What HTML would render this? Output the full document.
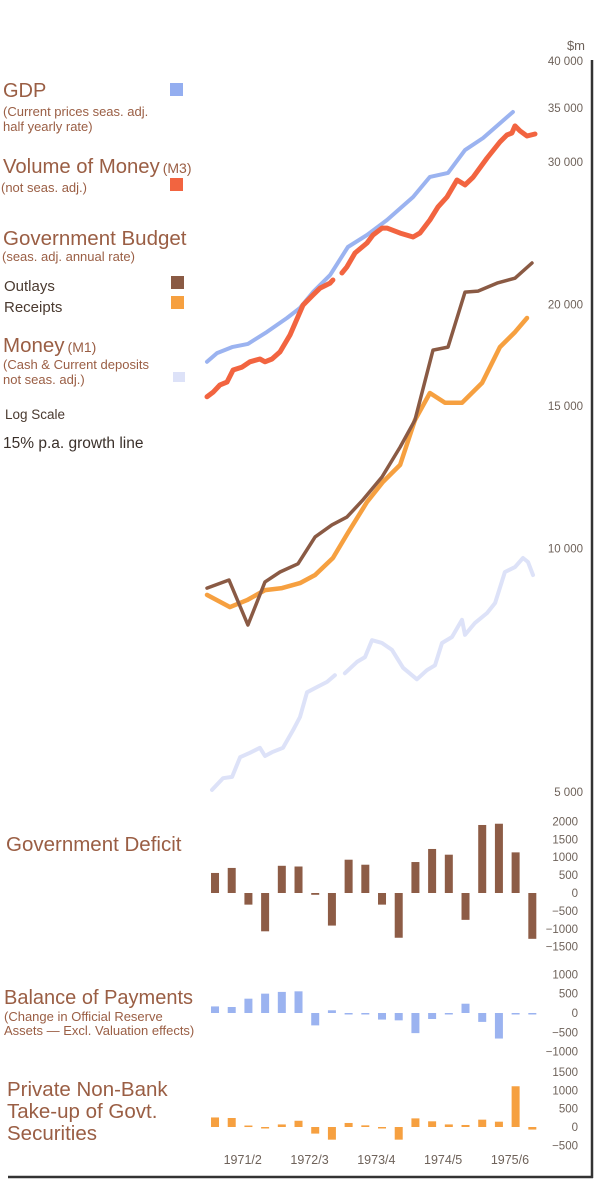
<!DOCTYPE html>
<html><head><meta charset="utf-8">
<style>
html,body{margin:0;padding:0;background:#fff;}
svg{display:block;font-family:"Liberation Sans",sans-serif;}
.lab{fill:#9a5e44;}
.ax{fill:#6e625a;font-size:11.5px;}
</style></head>
<body>
<svg id="chart" width="600" height="1191" viewBox="0 0 600 1191">
  <g>
    <text class="lab" x="3" y="97" font-size="20">GDP</text>
    <text class="lab" x="3" y="116" font-size="13">(Current prices seas. adj.</text>
    <text class="lab" x="3" y="131" font-size="13">half yearly rate)</text>
    <rect x="170" y="83" width="13" height="13" fill="#94aef0"/>
    <text class="lab" x="3" y="173" font-size="20.3">Volume of Money<tspan font-size="14" dx="3">(M3)</tspan></text>
    <text class="lab" x="1" y="192" font-size="13">(not seas. adj.)</text>
    <rect x="170" y="178" width="13" height="13" fill="#f26440"/>
    <text class="lab" x="3" y="245" font-size="20.5">Government Budget</text>
    <text class="lab" x="2" y="261" font-size="13">(seas. adj. annual rate)</text>
    <text x="4" y="291" font-size="15" fill="#4a3a30">Outlays</text>
    <rect x="171" y="276" width="13" height="13" fill="#8a5a44"/>
    <text x="4" y="312" font-size="15" fill="#4a3a30">Receipts</text>
    <rect x="171" y="296" width="13" height="13" fill="#f6a040"/>
    <text class="lab" x="3" y="352" font-size="20.5">Money<tspan font-size="14" dx="3">(M1)</tspan></text>
    <text class="lab" x="3" y="369" font-size="13">(Cash &amp; Current deposits</text>
    <text class="lab" x="3" y="384" font-size="13">not seas. adj.)</text>
    <rect x="173" y="372" width="12" height="10" fill="#dde2f8"/>
    <text x="5" y="419" font-size="13.5" fill="#4a3a30">Log Scale</text>
    <text x="3" y="448" font-size="15.5" fill="#3a302a">15% p.a. growth line</text>
    <text class="lab" x="6" y="851" font-size="20.5">Government Deficit</text>
    <text class="lab" x="4" y="1004" font-size="20">Balance of Payments</text>
    <text class="lab" x="4" y="1021" font-size="13">(Change in Official Reserve</text>
    <text class="lab" x="4" y="1035" font-size="13">Assets — Excl. Valuation effects)</text>
    <text class="lab" x="7" y="1096" font-size="20.5">Private Non-Bank</text>
    <text class="lab" x="7" y="1118" font-size="20.5">Take-up of Govt.</text>
    <text class="lab" x="7" y="1140" font-size="20.5">Securities</text>
  </g>
  <line x1="592" y1="60" x2="592" y2="1178" stroke="#333" stroke-width="2.5"/>
  <line x1="8" y1="1177" x2="593" y2="1177" stroke="#333" stroke-width="2.5"/>
  <text x="585" y="50" class="ax" font-size="13" text-anchor="end" style="font-size:13px">$m</text>
  <g id="main"></g>
  <g id="bars"></g>
</svg>
<script>
const NS="http://www.w3.org/2000/svg";
// ---- data ----
const logTicks=[40000,35000,30000,20000,15000,10000,5000];
const gdpT=[0.06,0.66,1.56,2.51,3.65,4.85,5.63,6.41,7.43,8.50,9.64,10.84,12.40,13.41,14.49,15.51,16.59,18.38];
const gdpV=[17000,17430,17730,17890,18510,19260,19820,20730,21760,23570,24390,25450,27170,28770,29100,31050,32140,34610];
const m3T=[0.06,0.42,0.84,1.26,1.62,2.16,2.63,3.23,3.53,3.95,4.43,5.03,5.81,6.41,6.83,7.43,7.60,8.14,8.44,8.92,9.64,10.00,10.54,10.84,11.62,12.40,12.81,13.41,13.89,14.43,15.03,15.51,15.99,16.83,17.60,18.02,18.32,18.50,18.80,19.22,19.70];
const m3V=[15390,15590,15920,16050,16610,16750,17000,17140,17000,17140,17490,18350,19980,20560,20970,21270,21460,21890,22270,23170,23840,24390,24870,24870,24520,24250,24520,25450,26420,27170,28520,28120,28740,30360,31770,32410,32600,33260,32790,32320,32510];
const m3Break=17;
const outT=[0.06,1.38,2.51,3.53,4.43,5.51,6.53,7.54,8.44,9.40,10.54,11.62,12.51,13.59,14.49,15.51,16.29,17.43,18.50,19.52];
const outV=[8930,9140,8040,9090,9350,9570,10330,10690,10930,11480,12250,13340,14400,17580,17730,20730,20790,21270,21570,22520];
const recT=[0.06,1.44,2.46,3.53,4.55,5.63,6.53,7.60,8.50,9.64,10.60,11.62,12.51,13.41,14.31,15.33,16.53,17.60,18.50,19.22];
const recV=[8760,8460,8630,8880,8930,9060,9270,9730,10450,11410,12080,12680,14400,15560,15130,15130,16010,17730,18500,19260];
const m1T=[0.36,1.02,1.56,2.04,2.63,3.23,3.53,3.95,4.61,5.21,5.63,6.05,6.65,7.25,7.72,8.32,9.04,9.52,9.94,10.54,11.14,11.80,12.63,13.23,13.71,14.13,14.73,15.33,15.51,16.11,16.83,17.31,17.90,18.50,18.98,19.28,19.58];
const m1V=[5030,5200,5220,5520,5590,5670,5540,5600,5670,5960,6190,6640,6740,6840,6970,7010,7240,7340,7700,7640,7490,7120,6890,7070,7170,7640,7770,8160,7820,8090,8320,8560,9350,9480,9730,9620,9270];
const m1Break=15;
const periods=["1971/2","1972/3","1973/4","1974/5","1975/6"];
const deficit=[560,700,-325,-1070,760,740,-50,-910,930,790,-325,-1250,865,1230,1070,-750,1900,1935,1135,-1280];
const deficitTicks=[2000,1500,1000,500,0,-500,-1000,-1500];
const bop=[170,155,370,500,545,560,-320,70,-10,-10,-170,-190,-520,-155,-10,240,-230,-660,-20,-20];
const bopTicks=[1000,500,0,-500,-1000];
const priv=[260,245,40,-30,70,170,-180,-345,110,45,-10,-345,235,155,70,55,200,145,1110,-70];
const privTicks=[1500,1000,500,0,-500];
// ---- scales ----
const xT=t=>206+16.7*t;
const yLog=v=>792-351.5*Math.log(v/5000);
const yDef=v=>893-v*0.0358;
const yBop=v=>1013-v*0.0387;
const yPriv=v=>1127-v*0.0367;
const main=document.getElementById('main'), bars=document.getElementById('bars');
function mk(tag,attrs,parent){const e=document.createElementNS(NS,tag);for(const k in attrs)e.setAttribute(k,attrs[k]);parent.appendChild(e);return e;}
logTicks.forEach(v=>{
  const t=mk('text',{x:583,y:yLog(v)+4,'text-anchor':'end',class:'ax'},main);
  
  
  t.textContent=v.toLocaleString('en').replace(',',' ');
});
function line(T,V,color,w,name,brk,op){
  const segs=brk?[[0,brk],[brk,T.length]]:[[0,T.length]];
  segs.forEach(([a,b])=>{
    let d='';for(let i=a;i<b;i++)d+=(i===a?'M':'L')+xT(T[i]).toFixed(1)+','+yLog(V[i]).toFixed(1);
    const p=mk('path',{d:d,fill:'none',stroke:color,'stroke-width':w,'stroke-linejoin':'round','stroke-linecap':'round',opacity:op||1},main);
    
    
  });
}
line(m1T,m1V,'#dde2f8',4,'m1-line',m1Break);
line(gdpT,gdpV,'#9bb3f0',4,'gdp-line');
line(m3T,m3V,'#f26440',5,'m3-line',m3Break);
line(recT,recV,'#f6a040',4.5,'receipts-line');
line(outT,outV,'#8a5a44',3.5,'outlays-line');
function barPanel(vals,ticks,ys,color,name){
  ticks.forEach(v=>{
    const t=mk('text',{x:578,y:ys(v)+4,'text-anchor':'end',class:'ax'},bars);
    
    
    t.textContent=v<0?'\u2212'+(-v):String(v);
  });
  vals.forEach((v,i)=>{
    const cx=xT(i+0.54),y0=ys(0),y1=ys(v);
    const h=Math.max(Math.abs(y1-y0),1.5);
    const r=mk('rect',{x:cx-4,y:Math.min(y0,y1),width:8,height:h,fill:color},bars);
    
    
  });
}
barPanel(deficit,deficitTicks,yDef,'#8d5c46','deficit');
barPanel(bop,bopTicks,yBop,'#9bb3f0','bop');
barPanel(priv,privTicks,yPriv,'#f6a040','private');
periods.forEach((p,i)=>{
  const t=mk('text',{x:xT(2.2+i*4),y:1164,'text-anchor':'middle',class:'ax'},bars);
  
  
  t.style.fontSize='12.5px';
  t.textContent=p;
});
</script>
</body></html>
